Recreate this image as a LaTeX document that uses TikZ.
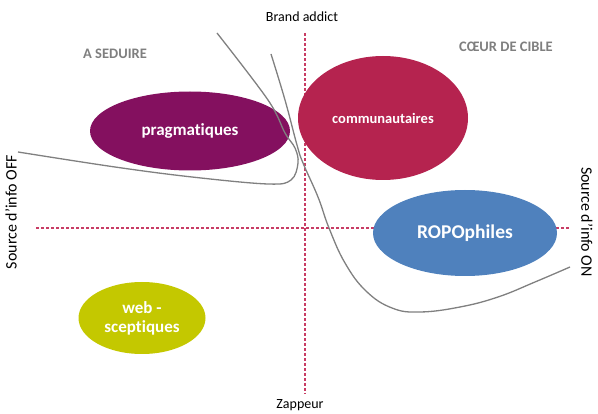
\documentclass[tikz,border=0pt]{standalone}
\usepackage{fontspec}
\setmainfont{Carlito}[Ligatures=NoCommon]
\usetikzlibrary{shapes.geometric}

\definecolor{axisred}{RGB}{200,60,100}
\definecolor{purple}{RGB}{132,16,95}
\definecolor{crimson}{RGB}{181,35,79}
\definecolor{blue}{RGB}{79,129,189}
\definecolor{olive}{RGB}{196,200,0}
\definecolor{textgray}{RGB}{127,127,127}
\definecolor{curvegray}{RGB}{128,128,128}

\begin{document}
\begin{tikzpicture}[x=1pt,y=1pt,yscale=-1,xscale=1,
		axisline/.style={draw=axisred, line width=1.2pt, dash pattern=on 3pt off 2pt},
		segment/.style={ellipse, fill=#1, inner sep=0pt, text=white, align=center},
		border/.style={curvegray, line width=1.3pt},
		quadrant/.style={textgray, font=\bfseries\fontsize{14.5}{16}\selectfont},
		axislabel/.style={font=\fontsize{14}{16}\selectfont},
		sidelabel/.style={font=\fontsize{16}{18}\selectfont}]
		\useasboundingbox (0,0) rectangle (598,414);

		% Axis labels
		\node[axislabel] (brand) at (302,17) {Brand addict};
		\node[axislabel] (zappeur) at (300,405) {Zappeur};
		\node[sidelabel, rotate=90] (off) at (11,212) {Source d’info OFF};
		\node[sidelabel, rotate=-90] (on) at (587,222) {Source d’info ON};

		% Dashed axes
		\coordinate (top) at (305,33);
		\coordinate (bottom) at (305,394);
		\coordinate (left) at (36,228);
		\coordinate (right) at (569,228);
		\draw[axisline] (top) -- (bottom);
		\draw[axisline] (left) -- (right);

		% Quadrant titles
		\node[quadrant] (seduire) at (115,54) {A SEDUIRE};
		\node[quadrant] (coeur) at (506,47) {CŒUR DE CIBLE};

		% Segments
		\node[segment=purple, minimum width=200pt, minimum height=79pt, font=\bfseries\fontsize{17}{19}\selectfont] (pragma) at (190,131) {pragmatiques};
		\node[segment=crimson, minimum width=170pt, minimum height=124pt, font=\bfseries\fontsize{14.5}{16}\selectfont] (commu) at (383,118) {communautaires};
		\node[segment=blue, minimum width=184pt, minimum height=86pt, font=\bfseries\fontsize{19.5}{21}\selectfont] (ropo) at (465,233) {ROPOphiles};
		\node[segment=olive, minimum width=127pt, minimum height=72pt, font=\bfseries\fontsize{17}{19}\selectfont] (web) at (142,318) {web -\\sceptiques};

		% Borders between groups
		\draw[border] plot[smooth, tension=0.6] coordinates {(217,33) (268,100) (285,133) (295,148) (298,163) (291,180) (268,184) (192,177) (115,167) (18,152)};
		\draw[border] plot[smooth, tension=0.7] coordinates {(271,54) (285,100) (297,145) (303,163) (318,197) (329,228) (345,263) (366,291) (392,308) (420,312) (460,307) (498,297) (535,282) (570,267)};
	\end{tikzpicture}
\end{document}
